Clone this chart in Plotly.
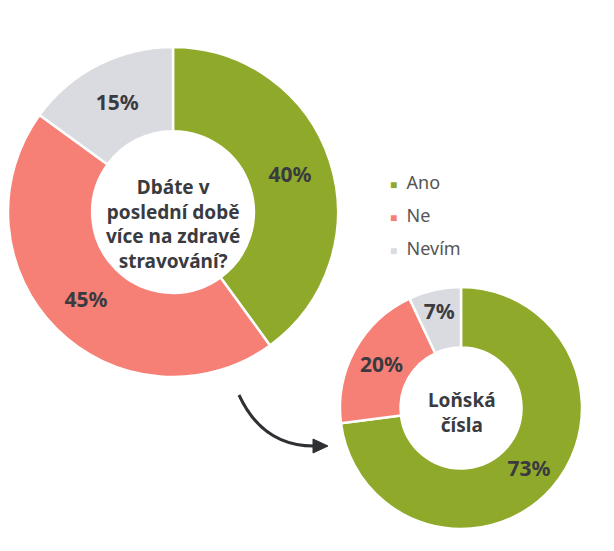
import plotly.graph_objects as go

# page has an 8px body margin, so the figure is shrunk and coordinates shifted
OFF = 8
W, H = 614 - OFF, 551 - OFF

labels = ["Ano", "Ne", "Nevím"]
colors = ["#8FAA2A", "#F67F76", "#D9DBE0"]
current_values = [40, 45, 15]
last_year_values = [73, 20, 7]

current_title = "Dbáte v<br>poslední době<br>více na zdravé<br>stravování?"
last_year_title = "Loňská<br>čísla"

TEXT = "#3A3B40"
FONT = "Noto Sans"


def px_x(x):
	return (x - OFF) / W


def px_y(y):
	return 1 - (y - OFF) / H


def donut(values, domain_px, hole):
	x0, y0, x1, y1 = domain_px
	return go.Pie(
		labels=labels,
		values=values,
		hole=hole,
		sort=False,
		direction="clockwise",
		rotation=0,
		marker=dict(colors=colors, line=dict(color="white", width=2.5)),
		texttemplate="%{value}%",
		textposition="inside",
		insidetextorientation="horizontal",
		textfont=dict(family=FONT, size=21, color=TEXT, weight="bold"),
		domain=dict(x=[px_x(x0), px_x(x1)], y=[px_y(y1), px_y(y0)]),
		showlegend=False,
		hoverinfo="label+percent",
	)


fig = go.Figure()
fig.add_trace(donut(current_values, (8, 47, 338, 377), 0.49))
fig.add_trace(donut(last_year_values, (340, 287, 582, 529), 0.5))

annotations = [
	dict(x=px_x(173), y=px_y(224), text=current_title, showarrow=False,
		 xanchor="center", yanchor="middle",
		 font=dict(family=FONT, size=19, color=TEXT, weight="bold")),
	dict(x=px_x(462), y=px_y(412), text=last_year_title, showarrow=False,
		 xanchor="center", yanchor="middle",
		 font=dict(family=FONT, size=19, color=TEXT, weight="bold")),
]

# legend drawn as text so the spacing matches
for i, (lab, col) in enumerate(zip(labels, colors)):
	annotations.append(dict(
		x=px_x(388), y=px_y(182 + 33 * i), xanchor="left", yanchor="middle",
		text=f"<span style='color:{col};font-size:12px'>■</span>  {lab}",
		showarrow=False,
		font=dict(family=FONT, size=18, color="#555555"),
	))

shapes = [
	dict(type="path", xref="paper", yref="paper",
		 path=f"M {px_x(239)},{px_y(395)} Q {px_x(263)},{px_y(447)} {px_x(316)},{px_y(446)}",
		 line=dict(color="#2F3034", width=3)),
	dict(type="path", xref="paper", yref="paper",
		 path=f"M {px_x(313)},{px_y(439)} L {px_x(328)},{px_y(446)} L {px_x(313)},{px_y(453)} Z",
		 fillcolor="#2F3034", line=dict(color="#2F3034", width=1)),
]

fig.update_layout(
	width=W, height=H,
	margin=dict(l=0, r=0, t=0, b=0),
	paper_bgcolor="white",
	plot_bgcolor="white",
	annotations=annotations,
	shapes=shapes,
)

fig.write_html("out.html")
